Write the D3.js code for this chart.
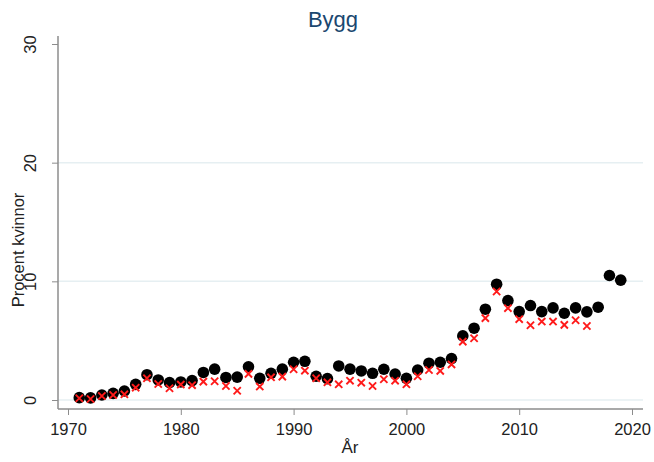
<!DOCTYPE html>
<html><head><meta charset="utf-8">
<script src="https://cdn.jsdelivr.net/npm/d3@7"></script>
<style>body{margin:0;background:#fff}svg{display:block}text{font-family:"Liberation Sans",Arial,sans-serif}</style>
</head><body><svg id="c" width="654" height="462"></svg>
<script>
const years = d3.range(1971, 2020);
const dots = [0.2,0.18,0.42,0.56,0.76,1.32,2.13,1.69,1.46,1.52,1.64,2.32,2.6,1.9,1.93,2.8,1.83,2.25,2.6,3.18,3.26,2.0,1.8,2.87,2.6,2.45,2.25,2.59,2.19,1.83,2.53,3.1,3.18,3.49,5.4,6.05,7.65,9.76,8.38,7.45,7.96,7.45,7.76,7.31,7.76,7.43,7.82,10.49,10.1];
const crossYears = d3.range(1971, 2017);
const crosses = [0.15,0.08,0.34,0.42,0.48,1.04,1.83,1.35,0.99,1.3,1.25,1.55,1.58,1.18,0.78,2.2,1.13,1.91,1.97,2.59,2.47,1.83,1.49,1.32,1.63,1.46,1.18,1.75,1.63,1.32,2.0,2.53,2.45,3.0,4.92,5.2,6.9,9.14,7.74,6.81,6.3,6.61,6.61,6.33,6.72,6.24];
const xTicks = [1970,1980,1990,2000,2010,2020];
const yTicks = [0,10,20,30];
const gridTicks = [0,10,20];

const svg = d3.select("#c");
const x = d3.scaleLinear().domain([1970,2020]).range([68,632]);
const y = d3.scaleLinear().domain([0,30]).range([400,44]);
const axisCol = "#8c8c8c", txt = "#222";

// grid
svg.append("g").selectAll("line").data(gridTicks).join("line")
  .attr("x1",58).attr("x2",643).attr("y1",d=>y(d)).attr("y2",d=>y(d))
  .attr("stroke","#e6eff2").attr("stroke-width",1.5);

// x axis
const xa = svg.append("g").attr("transform","translate(0,409)")
  .call(d3.axisBottom(x).tickValues(xTicks).tickFormat(d3.format("d")).tickSize(6).tickPadding(6));
xa.select(".domain").attr("d","M58,0H643").attr("stroke",axisCol).attr("stroke-width",1.5);
xa.selectAll(".tick line").attr("stroke",axisCol);
xa.selectAll("text").attr("font-size",16.5).attr("fill",txt).attr("dy","0.85em");

// y axis
const ya = svg.append("g").attr("transform","translate(58,0)")
  .call(d3.axisLeft(y).tickValues(yTicks).tickSize(6).tickPadding(0));
ya.select(".domain").attr("d","M0,36V409").attr("stroke",axisCol).attr("stroke-width",1.5);
ya.selectAll(".tick line").attr("stroke",axisCol);
ya.selectAll("text").attr("font-size",16.5).attr("fill",txt)
  .attr("x",0).attr("dy",0).attr("text-anchor","middle")
  .attr("transform","translate(-16,0) rotate(-90)")
  .attr("y",-6);

// titles
svg.append("text").attr("x",333).attr("y",27).attr("text-anchor","middle")
  .attr("font-size",22).attr("fill","#1a476f").text("Bygg");
svg.append("text").attr("x",350).attr("y",453).attr("text-anchor","middle")
  .attr("font-size",17).attr("fill",txt).text("År");
svg.append("text").attr("transform","translate(24,250) rotate(-90)").attr("text-anchor","middle")
  .attr("font-size",16.5).attr("fill",txt).text("Procent kvinnor");

// dots
svg.append("g").selectAll("circle").data(years).join("circle")
  .attr("cx",d=>x(d)).attr("cy",(d,i)=>y(dots[i])).attr("r",5.8).attr("fill","#000");

// crosses
const s = 3.6;
svg.append("g").selectAll("path").data(crossYears).join("path")
  .attr("d",(d,i)=>{const cx=x(d),cy=y(crosses[i]);return `M${cx-s},${cy-s}L${cx+s},${cy+s}M${cx-s},${cy+s}L${cx+s},${cy-s}`;})
  .attr("stroke","#ff1a1a").attr("stroke-width",1.9).attr("fill","none");
</script></body></html>
